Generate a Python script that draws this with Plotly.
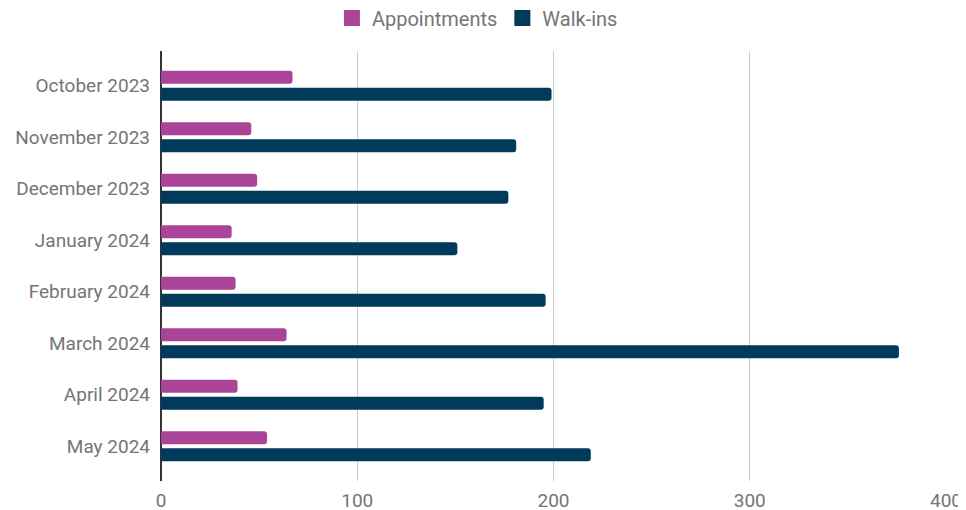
import plotly.graph_objects as go

months = ["October 2023", "November 2023", "December 2023", "January 2024",
          "February 2024", "March 2024", "April 2024", "May 2024"]
appointments = [67, 46, 49, 36, 38, 64, 39, 54]
walk_ins = [199, 181, 177, 151, 196, 376, 195, 219]
x_ticks = [0, 100, 200, 300, 400]

APPT_COLOR = "#AA4499"
WALK_COLOR = "#023A5B"
TEXT_COLOR = "#757575"
FONT = "Roboto, Arial, sans-serif"
FS = 19

fig = go.Figure()
fig.add_trace(go.Bar(y=months, x=appointments, orientation="h", name="Appointments",
                     marker=dict(color=APPT_COLOR, cornerradius=3, line=dict(width=0)),
                     showlegend=False))
fig.add_trace(go.Bar(y=months, x=walk_ins, orientation="h", name="Walk-ins",
                     marker=dict(color=WALK_COLOR, cornerradius=3, line=dict(width=0)),
                     showlegend=False))
# legend-only entries with larger square swatches
fig.add_trace(go.Scatter(x=[None], y=[None], mode="markers", name="Appointments",
                         marker=dict(symbol="square", size=18, color=APPT_COLOR)))
fig.add_trace(go.Scatter(x=[None], y=[None], mode="markers", name="Walk-ins",
                         marker=dict(symbol="square", size=18, color=WALK_COLOR)))

n = len(months)
pad = 0.175
fig.update_layout(
    width=958, height=502,
    margin=dict(l=153, r=20, t=43, b=29, pad=0, autoexpand=False),
    paper_bgcolor="white", plot_bgcolor="white",
    font=dict(family=FONT, size=FS, color=TEXT_COLOR),
    barmode="group", bargap=0.34, bargroupgap=0.235,
    legend=dict(orientation="h", xref="container", x=0.49, xanchor="center",
                yref="container", y=0.98, yanchor="middle",
                font=dict(family=FONT, size=20, color=TEXT_COLOR),
                itemclick=False, itemdoubleclick=False),
    showlegend=True,
)
fig.update_xaxes(range=[0, 400], tickvals=x_ticks, ticktext=[str(v) for v in x_ticks],
                 showgrid=True, gridcolor="#CCCCCC", gridwidth=1,
                 zeroline=True, zerolinecolor="#333333", zerolinewidth=1.5,
                 showline=False, ticks="", tickfont=dict(size=FS, color=TEXT_COLOR),
                 ticklabelstandoff=6, automargin=False, fixedrange=True)
fig.update_yaxes(type="category", categoryorder="array", categoryarray=months,
                 range=[n - 0.5 + pad, -0.5 - pad],
                 showgrid=False, zeroline=False, showline=False, ticks="",
                 tickfont=dict(size=FS, color=TEXT_COLOR), ticklabelstandoff=10,
                 automargin=False, fixedrange=True)

fig.write_html("out.html")
